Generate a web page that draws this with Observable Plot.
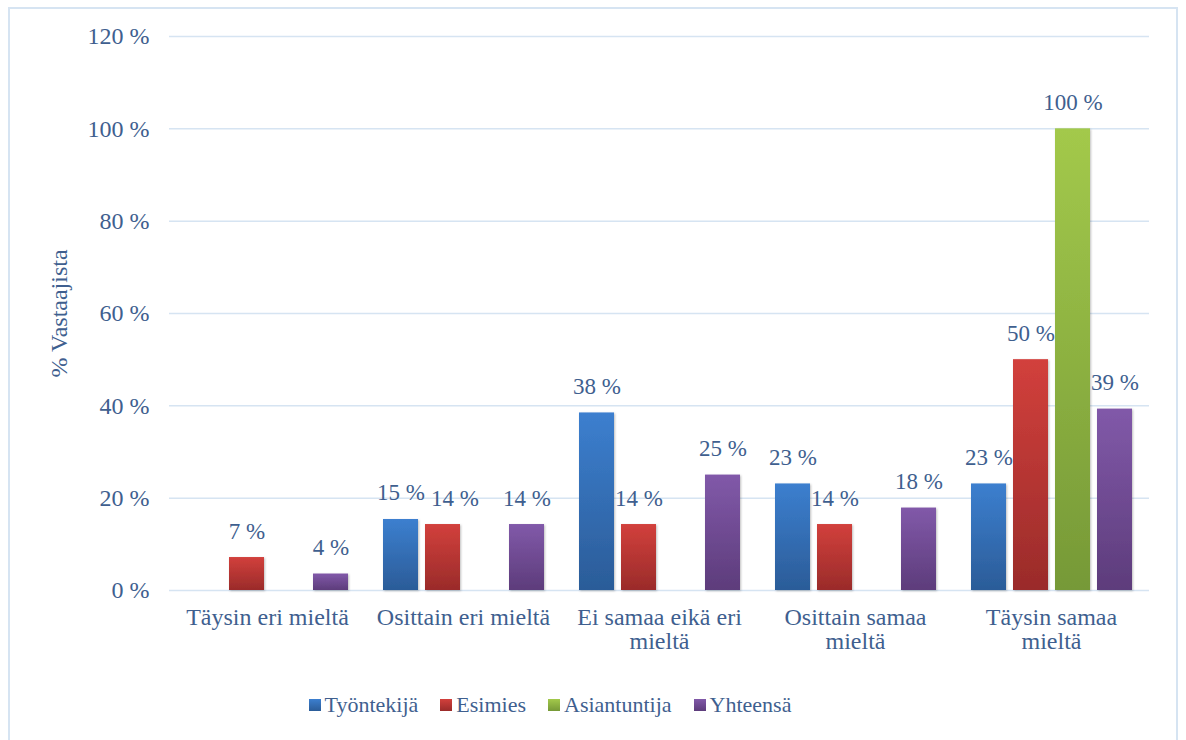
<!DOCTYPE html>
<html>
<head>
<meta charset="utf-8">
<script src="https://cdn.jsdelivr.net/npm/d3@7"></script>
<script src="https://cdn.jsdelivr.net/npm/@observablehq/plot@0.6"></script>
<style>
  html, body { margin: 0; padding: 0; background: #fff; overflow: hidden; }
  #wrap { position: relative; width: 1186px; height: 740px; font-family: "Liberation Serif", "DejaVu Serif", "Times New Roman", serif; color: #3F5F8F; }
  #frame { position: absolute; left: 8px; top: 7px; width: 1170px; height: 760px; border: 2px solid #D6E4F2; box-sizing: border-box; }
  #chart { position: absolute; left: 0; top: 0; }
  #legend { position: absolute; left: 0; top: 693px; width: 1100px; display: flex; justify-content: center; gap: 22px; font-size: 22px; line-height: 24px; }
  .item { display: flex; align-items: center; gap: 4px; }
  .sw { width: 12px; height: 12px; display: inline-block; }
</style>
</head>
<body>
<div id="wrap">
  <div id="frame"></div>
  <div id="chart"></div>
  <div id="legend"></div>
</div>
<script>
// ---- data ----
const categories = ["Täysin eri mieltä", "Osittain eri mieltä", "Ei samaa eikä eri mieltä", "Osittain samaa mieltä", "Täysin samaa mieltä"];
const categoryLabels = ["Täysin eri mieltä", "Osittain eri mieltä", "Ei samaa eikä eri\nmieltä", "Osittain samaa\nmieltä", "Täysin samaa\nmieltä"];
const series = ["Työntekijä", "Esimies", "Asiantuntija", "Yhteensä"];
const tyontekija = [0, 15.38, 38.46, 23.08, 23.08];
const esimies = [7.14, 14.29, 14.29, 14.29, 50];
const asiantuntija = [0, 0, 0, 0, 100];
const yhteensa = [3.57, 14.29, 25, 17.86, 39.29];
const yTicks = [0, 20, 40, 60, 80, 100, 120];
const colorsTop = ["#3C7FCF", "#D2403C", "#A3C94B", "#8159A9"];
const colorsBottom = ["#2B5C98", "#9A2B2A", "#769937", "#5D3C7B"];

const FONT = "'Liberation Serif', 'DejaVu Serif', 'Times New Roman', serif";
const values = [tyontekija, esimies, asiantuntija, yhteensa];
const rows = [];
series.forEach((s, si) => categories.forEach((c, ci) => {
  const v = values[si][ci];
  if (v > 0) {
    // label collides with the neighbouring (left) bar's label if both are at nearly the same height
    const prev = si > 0 ? values[si - 1][ci] : 0;
    const shifted = prev > 0 && Math.abs(prev - v) < 3;
    rows.push({category: c, series: s, value: v, fill: `url(#grad${si})`, shifted});
  }
}));
const labelOf = new Map(categories.map((c, i) => [c, categoryLabels[i]]));
const fmt = d => Math.round(d.value) + " %";

const chart = Plot.plot({
  width: 1186,
  height: 680,
  marginLeft: 168,
  marginRight: 36,
  marginTop: 36,
  marginBottom: 90,
  style: { fontFamily: FONT, fontSize: "24px", color: "#3F5F8F", background: "transparent", overflow: "visible" },
  fx: { domain: categories, padding: 0, label: null },
  x: { domain: series, paddingInner: 0.17, paddingOuter: 0.41, axis: null },
  y: { domain: [0, 120] },
  color: { type: "identity" },
  marks: [
    Plot.gridY(yTicks, { stroke: "#D6E4F2", strokeOpacity: 1, strokeWidth: 1.5 }),
    Plot.axisY({ ticks: yTicks, tickFormat: d => d + " %", tickSize: 0, tickPadding: 20, fontSize: 24,
      label: "% Vastaajista", labelAnchor: "center", labelOffset: 120, labelArrow: false }),
    Plot.axisFx({ anchor: "bottom", tickSize: 0, tickPadding: 17, lineHeight: 1.02, label: null,
      tickFormat: c => labelOf.get(c), fontSize: 24 }),
    Plot.barY(rows, { fx: "category", x: "series", y: "value", fill: "fill" }),
    Plot.text(rows.filter(d => !d.shifted), { fx: "category", x: "series", y: "value", text: fmt,
      lineAnchor: "bottom", dy: -19, fill: "#3F5F8F", fontSize: 23 }),
    Plot.text(rows.filter(d => d.shifted), { fx: "category", x: "series", y: "value", text: fmt,
      lineAnchor: "bottom", dy: -19, dx: 12, fill: "#3F5F8F", fontSize: 23 })
  ]
});

// gradients + shadow
const svg = d3.select(chart);
const defs = svg.insert("defs", ":first-child");
series.forEach((s, i) => {
  const g = defs.append("linearGradient").attr("id", `grad${i}`).attr("x1", 0).attr("y1", 0).attr("x2", 0).attr("y2", 1);
  g.append("stop").attr("offset", "0%").attr("stop-color", colorsTop[i]);
  g.append("stop").attr("offset", "100%").attr("stop-color", colorsBottom[i]);
});
const f = defs.append("filter").attr("id", "shadow").attr("x", "-20%").attr("y", "-20%").attr("width", "140%").attr("height", "140%");
f.append("feDropShadow").attr("dx", 1).attr("dy", 1).attr("stdDeviation", 1.2).attr("flood-color", "#000").attr("flood-opacity", 0.25);
svg.selectAll("g[aria-label='bar'] rect").attr("filter", "url(#shadow)");

document.getElementById("chart").appendChild(chart);

// legend
const legend = document.getElementById("legend");
series.forEach((s, i) => {
  const item = document.createElement("div");
  item.className = "item";
  const sw = document.createElement("span");
  sw.className = "sw";
  sw.style.background = `linear-gradient(${colorsTop[i]}, ${colorsBottom[i]})`;
  const t = document.createElement("span");
  t.textContent = s;
  item.appendChild(sw); item.appendChild(t);
  legend.appendChild(item);
});
</script>
</body>
</html>
